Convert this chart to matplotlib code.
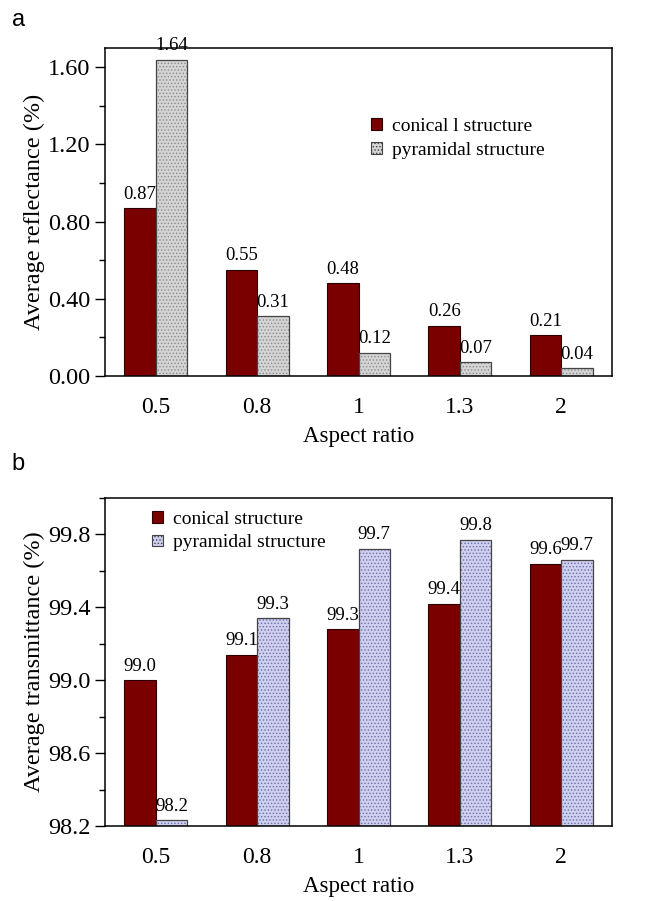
import matplotlib
matplotlib.use("Agg")
import matplotlib.pyplot as plt
from matplotlib.patches import Patch
import numpy as np

plt.rcParams['font.family'] = ['Liberation Serif', 'DejaVu Serif']
plt.rcParams['hatch.linewidth'] = 0.6

# data
aspect_ratio = ['0.5', '0.8', '1', '1.3', '2']
refl_conical = [0.87, 0.55, 0.48, 0.26, 0.21]
refl_pyramidal = [1.64, 0.31, 0.12, 0.07, 0.04]
trans_conical = [99.0, 99.14, 99.28, 99.42, 99.64]
trans_pyramidal = [98.23, 99.34, 99.72, 99.77, 99.66]

dark_red = '#7a0000'
width = 0.31


def hatched_bars(ax, x, vals, base, face, hatch_col, edge):
    heights = np.array(vals) - base
    ax.bar(x, heights, width, bottom=base, color=face, edgecolor=hatch_col,
           hatch='.....', linewidth=0)
    ax.bar(x, heights, width, bottom=base, fill=False, edgecolor=edge, linewidth=0.9)


def panel(ax, cone, pyr, base, top, ticks, fmt, face, hatch_col, leg_labels, leg_pos, ylabel):
    x = np.arange(len(aspect_ratio))
    ax.bar(x - width / 2, np.array(cone) - base, width, bottom=base, color=dark_red,
           edgecolor='#2a0000', linewidth=0.8)
    hatched_bars(ax, x + width / 2, pyr, base, face, hatch_col, '#444444')
    for xi, v in zip(x, cone):
        ax.annotate(fmt.format(v), (xi - width / 2, v), xytext=(0, 4), textcoords='offset points',
                    ha='center', va='bottom', fontsize=13.5)
    for xi, v in zip(x, pyr):
        ax.annotate(fmt.format(v), (xi + width / 2, v), xytext=(0, 4), textcoords='offset points',
                    ha='center', va='bottom', fontsize=13.5)
    ax.set_xlim(-0.5, 4.5)
    ax.set_ylim(base, top)
    ax.set_xticks(x)
    ax.set_xticklabels(aspect_ratio)
    ax.set_yticks(ticks)
    ax.set_yticks(np.arange(ticks[0], top, (ticks[1] - ticks[0]) / 2), minor=True)
    ax.tick_params(axis='x', length=0, pad=15, labelsize=17)
    ax.tick_params(axis='y', which='major', direction='out', length=7, width=1, labelsize=17.5)
    ax.tick_params(axis='y', which='minor', direction='out', length=4, width=1)
    for s in ax.spines.values():
        s.set_linewidth(1.1)
    ax.set_xlabel('Aspect ratio', fontsize=16.5, labelpad=6)
    ax.set_ylabel(ylabel, fontsize=17.5)
    ax.yaxis.set_label_coords(-0.118, 0.5)
    handles = [Patch(facecolor=dark_red, edgecolor='#2a0000', linewidth=0.8),
               Patch(facecolor=face, edgecolor='#444444', hatch='.....', linewidth=0.8)]
    ax.legend(handles, leg_labels, loc='upper left', bbox_to_anchor=leg_pos, frameon=False,
              fontsize=14, handlelength=0.55, handleheight=0.55, handletextpad=0.5,
              labelspacing=0.35, borderaxespad=0)


fig = plt.figure(figsize=(6.56, 9.01), dpi=100)
ax1 = fig.add_axes([0.160, 0.5827, 0.773, 0.364])
ax2 = fig.add_axes([0.160, 0.0833, 0.773, 0.364])

panel(ax1, refl_conical, refl_pyramidal, 0.0, 1.70, [0.0, 0.4, 0.8, 1.2, 1.6], '{:.2f}',
      '#d4d4d4', '#8c8c8c', ['conical l structure', 'pyramidal structure'], (0.51, 0.81),
      'Average reflectance (%)')
ax1.set_yticklabels(['0.00', '0.40', '0.80', '1.20', '1.60'])

panel(ax2, trans_conical, trans_pyramidal, 98.2, 100.0, [98.2, 98.6, 99.0, 99.4, 99.8], '{:.1f}',
      '#cfd0f0', '#6d6fa8', ['conical structure', 'pyramidal structure'], (0.078, 0.985),
      'Average transmittance (%)')
ax2.set_yticklabels(['98.2', '98.6', '99.0', '99.4', '99.8'])

fig.text(0.018, 0.978, 'a', fontsize=17, family='Liberation Sans', va='center')
fig.text(0.018, 0.485, 'b', fontsize=17, family='Liberation Sans', va='center')

fig.savefig('out.png', dpi=100)
